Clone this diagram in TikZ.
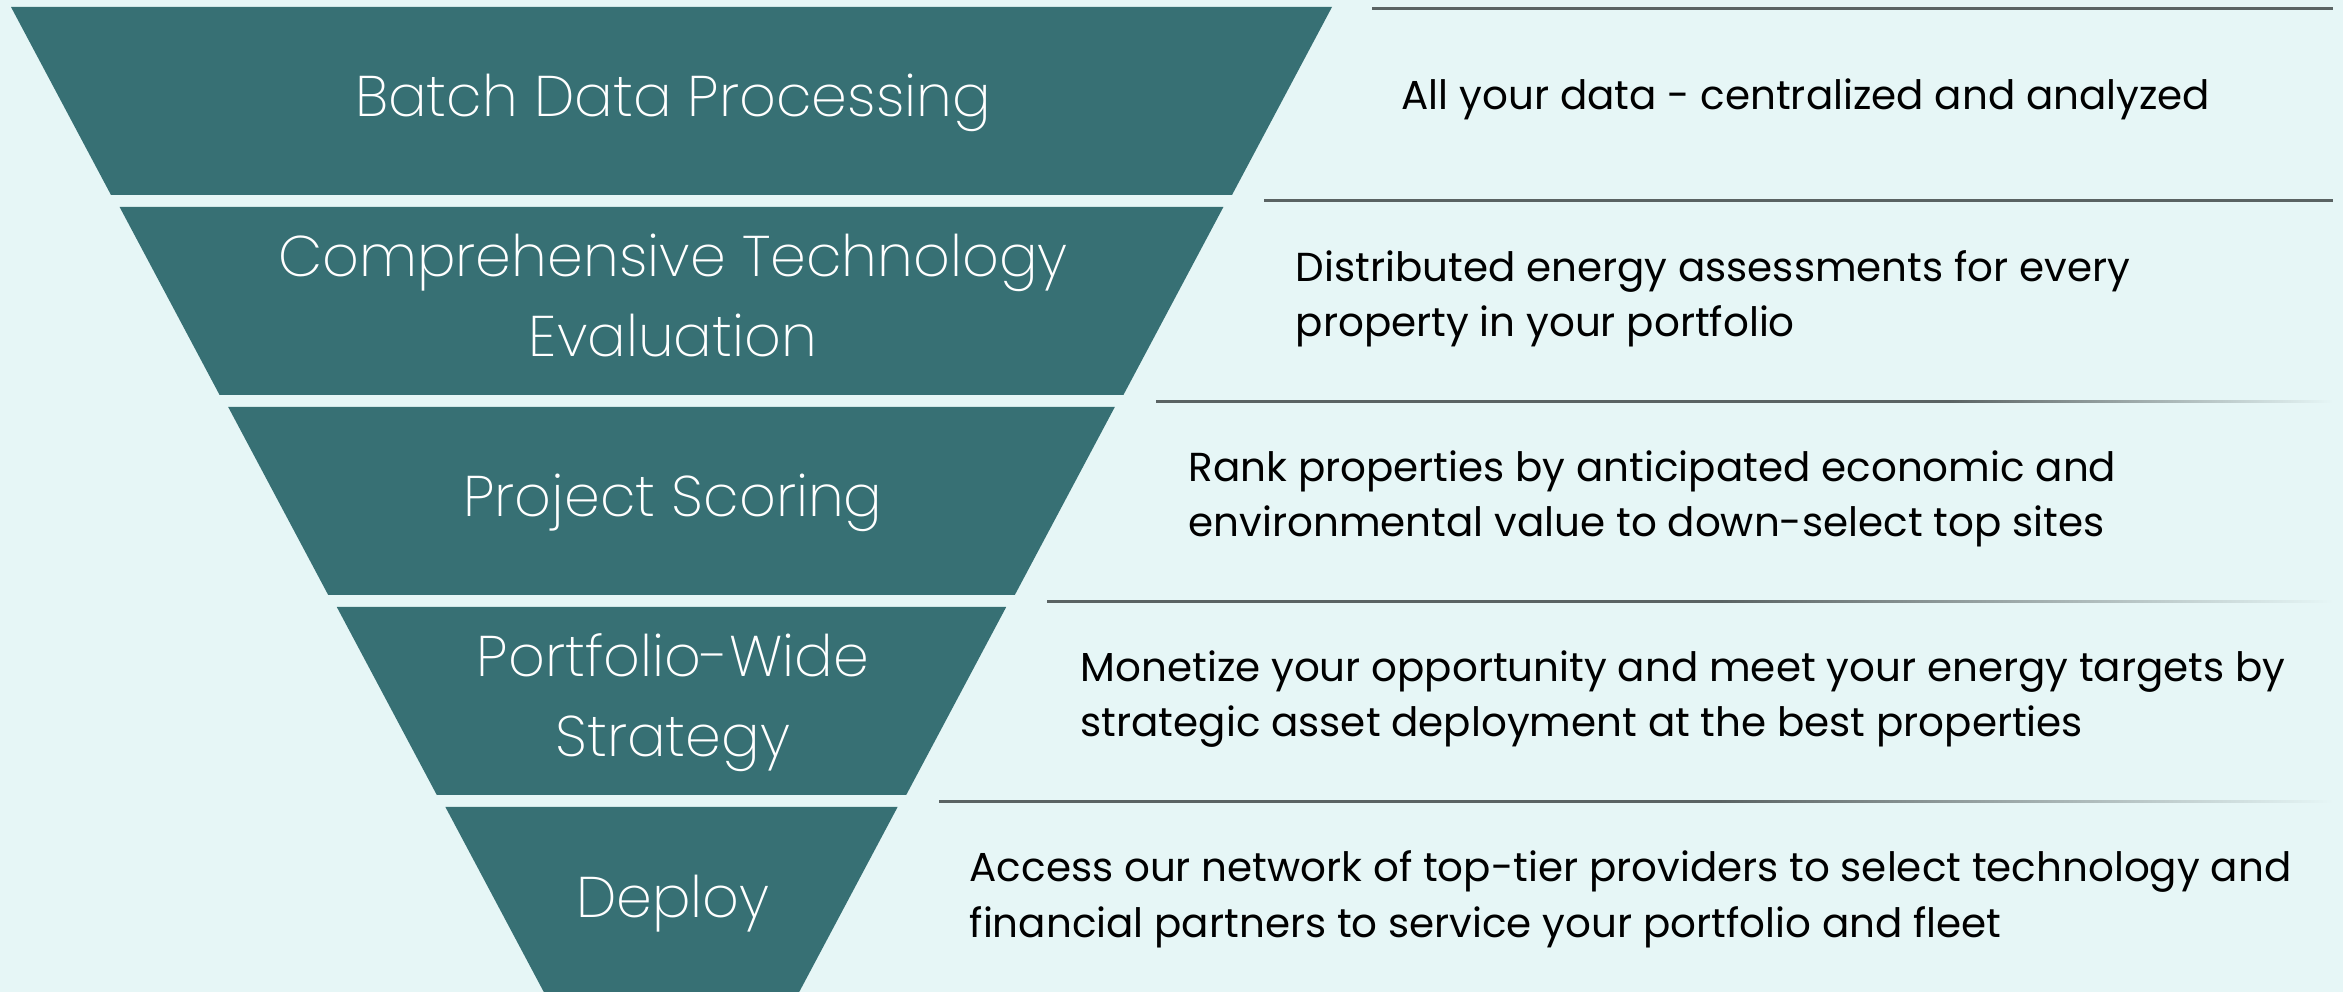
\documentclass[tikz,border=0pt]{standalone}
\usepackage{fontspec}
\setmainfont{Poppins}
\newfontfamily\titlefont{Poppins ExtraLight}
\usepackage{xcolor}
\usepackage{tikz}

\definecolor{funnelteal}{HTML}{377074}
\definecolor{bgmint}{HTML}{E6F6F6}
\definecolor{rulegray}{HTML}{5A6363}

% solid rule that fades out towards the right
\pgfdeclarehorizontalshading{fadeA}{100bp}{color(0bp)=(rulegray); color(58.7bp)=(rulegray); color(75bp)=(bgmint); color(100bp)=(bgmint)}
\pgfdeclarehorizontalshading{fadeB}{100bp}{color(0bp)=(rulegray); color(51.2bp)=(rulegray); color(75bp)=(bgmint); color(100bp)=(bgmint)}
\pgfdeclarehorizontalshading{fadeC}{100bp}{color(0bp)=(rulegray); color(53bp)=(rulegray); color(75bp)=(bgmint); color(100bp)=(bgmint)}

\tikzset{
  stagebox/.style={fill=funnelteal},
  stagetext/.style={text=white, align=center, anchor=base,
    font=\titlefont\fontsize{16.3}{22.8}\selectfont},
  desctext/.style={text=black, align=left, anchor=base west, inner sep=0pt,
    font=\fontsize{11.5}{15.65}\selectfont},
  sepline/.style={fill=rulegray}
}

\begin{document}
\begin{tikzpicture}[x=0.01cm, y=-0.01cm]
    \fill[bgmint] (0,0) rectangle (2343,992);
    \useasboundingbox (0,0) rectangle (2343,992);
    % funnel
    \foreach \k in {0,1,2,3} {
      \pgfmathsetmacro{\w}{660.5-108.6*\k}
      \pgfmathsetmacro{\t}{7+200*\k}
      \fill[stagebox] (671.5-\w,\t) -- (671.5+\w,\t)
        -- (571.5+\w,\t+188) -- (771.5-\w,\t+188) -- cycle;
    }
    \fill[stagebox] (445.4,807) -- (897.6,807) -- (799.2,992) -- (543.8,992) -- cycle;
    % separators
    \foreach \x/\y in {1372/7, 1264/199}
      \path[sepline] (\x,\y) rectangle (2333,\y+3);
    \foreach \x/\y/\s in {1156/400/fadeA, 1047/600/fadeB, 939/800/fadeC}
      \shade[shading=\s] (\x,\y+1) rectangle (2333,\y+3);
    % base anchor sits on the last line
    \node[stagetext] (stage1) at (673,117) {Batch Data Processing};
    \node[stagetext] (stage2) at (673,357) {Comprehensive Technology\\Evaluation};
    \node[stagetext] (stage3) at (673,517) {Project Scoring};
    \node[stagetext] (stage4) at (673,757) {Portfolio-Wide\\Strategy};
    \node[stagetext] (stage5) at (673,917) {Deploy};
    \node[desctext] (desc1) at (1401,110) {All your data - centralized and analyzed};
    \node[desctext] (desc2) at (1295,337) {Distributed energy assessments for every\\property in your portfolio};
    \node[desctext] (desc3) at (1188,537) {Rank properties by anticipated economic and\\environmental value to down-select top sites};
    \node[desctext] (desc4) at (1080,737) {Monetize your opportunity and meet your energy targets by\\strategic asset deployment at the best properties};
    \node[desctext] (desc5) at (969,937) {Access our network of top-tier providers to select technology and\\financial partners to service your portfolio and fleet};
  \end{tikzpicture}
\end{document}
